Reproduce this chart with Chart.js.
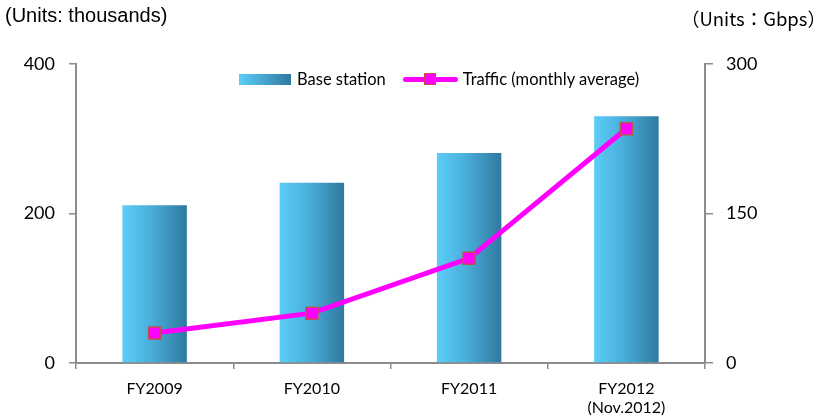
<!DOCTYPE html>
<html>
<head>
<meta charset="utf-8">
<script src="https://cdn.jsdelivr.net/npm/chart.js@4.4.1/dist/chart.umd.min.js"></script>
<style>
  html, body { margin: 0; padding: 0; background: #fff; }
  #wrap { position: relative; width: 817px; height: 419px; overflow: hidden; }
  canvas { position: absolute; left: 0; top: 0; }
  .unit { position: absolute; color: #000; white-space: nowrap; }
  #unitLeft { left: 5px; top: 4px; font: 20px "Liberation Sans", Arial, sans-serif; }
  #unitRight { left: 681px; top: 5px; font: 18.5px "Noto Sans CJK JP", sans-serif; }
  #legend { position: absolute; top: 68px; left: 239px; height: 22px; display: flex; align-items: center;
            font: 16.5px Lato, "Open Sans", sans-serif; color: #000; }
  .swatchBar { width: 52px; height: 11px; background: linear-gradient(to right, #5ccdf8, #2f799e); margin-right: 6px; }
  .swatchLine { position: relative; width: 55px; height: 5px; background: #ff00ff; border-radius: 3px; margin-left: 17px; margin-right: 5px; }
  .swatchLine span { position: absolute; left: 21px; top: -4px; width: 12px; height: 12px; box-sizing: border-box;
                     background: #ff00ff; border: 1.5px solid #c0504d; }
</style>
</head>
<body>
<div id="wrap">
  <canvas id="chart" width="817" height="419"></canvas>
  <div class="unit" id="unitLeft">(Units: thousands)</div>
  <div class="unit" id="unitRight">（Units：Gbps）</div>
  <div id="legend">
    <div class="swatchBar"></div><div>Base station</div>
    <div class="swatchLine"><span></span></div><div>Traffic (monthly average)</div>
  </div>
</div>
<script>
// Fiscal years on the category axis
const categories = ['FY2009', 'FY2010', 'FY2011', ['FY2012', '(Nov.2012)']];
// Number of base stations (thousands), left axis
const baseStations = [211, 241, 281, 330];
// Monthly average traffic (Gbps), right axis
const trafficGbps = [30, 50, 105, 235];
// Axis tick settings
const leftTicks = { min: 0, max: 400, step: 200 };
const rightTicks = { min: 0, max: 300, step: 150 };

const axisGray = '#8c8c8c';
const BAR_PCT = 0.41;

// Horizontal gradient across each individual bar
function barGradient(ctx) {
  const chart = ctx.chart;
  const xs = chart.scales.x;
  if (!xs || !chart.chartArea || ctx.dataIndex === undefined) return '#4aa6d0';
  const cx = xs.getPixelForValue(ctx.dataIndex);
  const w = (chart.chartArea.width / categories.length) * BAR_PCT;
  const g = chart.ctx.createLinearGradient(cx - w / 2, 0, cx + w / 2, 0);
  g.addColorStop(0, '#5ccdf8');
  g.addColorStop(0.45, '#49aedb');
  g.addColorStop(1, '#2f799e');
  return g;
}

const tickFont = { family: 'Lato', size: 18 };

new Chart(document.getElementById('chart'), {
  data: {
    labels: categories,
    datasets: [
      {
        type: 'line',
        label: 'Traffic (monthly average)',
        data: trafficGbps,
        yAxisID: 'yR',
        borderColor: '#ff00ff',
        borderWidth: 5,
        backgroundColor: '#ff00ff',
        pointStyle: 'rect',
        pointRadius: 8.5,
        pointBorderColor: '#c0504d',
        pointBorderWidth: 1.5,
        pointBackgroundColor: '#ff00ff',
        tension: 0,
        order: 0
      },
      {
        type: 'bar',
        label: 'Base station',
        data: baseStations,
        yAxisID: 'yL',
        backgroundColor: barGradient,
        borderWidth: 0,
        categoryPercentage: 1,
        barPercentage: BAR_PCT,
        order: 1
      }
    ]
  },
  options: {
    responsive: false,
    animation: false,
    layout: { padding: { top: 64, left: 0, right: 0, bottom: 0 } },
    plugins: { legend: { display: false }, tooltip: { enabled: false } },
    scales: {
      x: {
        offset: true,
        grid: { offset: true, drawOnChartArea: false, drawTicks: true, tickLength: 6, color: axisGray, lineWidth: 1.5 },
        border: { color: axisGray, width: 2 },
        ticks: { color: '#000', font: { family: 'Lato', size: 16 }, padding: 10, maxRotation: 0 },
        afterFit: s => { s.height = 56; }
      },
      yL: {
        position: 'left',
        min: leftTicks.min, max: leftTicks.max,
        ticks: { stepSize: leftTicks.step, color: '#000', font: tickFont, padding: 14 },
        grid: { drawOnChartArea: false, drawTicks: true, tickLength: 7, color: axisGray, lineWidth: 1.5 },
        border: { color: axisGray, width: 2 },
        afterFit: s => { s.width = 76; }
      },
      yR: {
        position: 'right',
        min: rightTicks.min, max: rightTicks.max,
        ticks: { stepSize: rightTicks.step, color: '#000', font: tickFont, padding: 13, crossAlign: 'near' },
        grid: { drawOnChartArea: false, drawTicks: true, tickLength: 8, color: axisGray, lineWidth: 1.5 },
        border: { color: axisGray, width: 2 },
        afterFit: s => { s.width = 112; }
      }
    }
  }
});
</script>
</body>
</html>
